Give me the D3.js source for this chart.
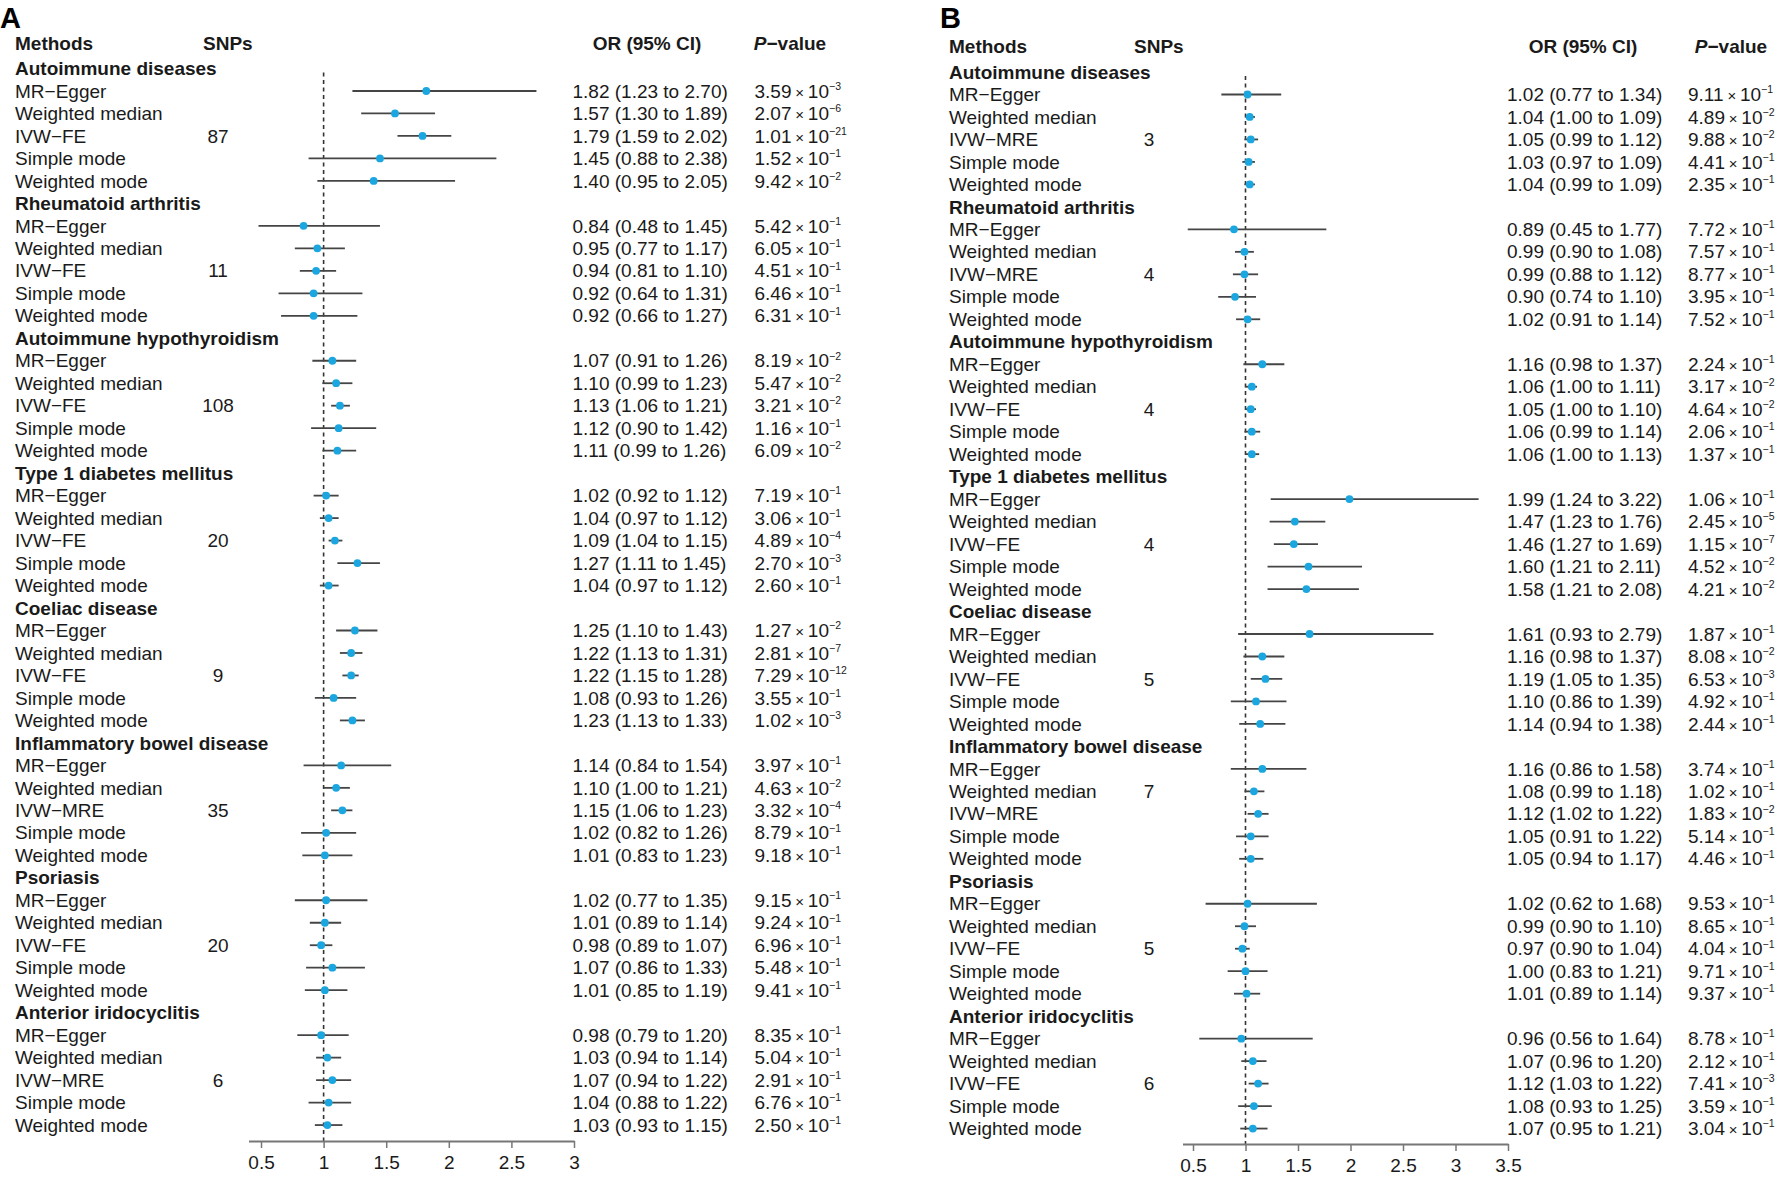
<!DOCTYPE html>
<html><head><meta charset="utf-8">
<script src="https://cdn.jsdelivr.net/npm/d3@7/dist/d3.min.js"></script>
<style>
body{margin:0;background:#fff}
svg{display:block}
text{font-family:"Liberation Sans",Arial,Helvetica,sans-serif;fill:#1a1a1a}
</style>
</head><body><svg id="chart" width="1782" height="1178"></svg>
<script>
// ---------- DATA ----------
const groups = ["Autoimmune diseases","Rheumatoid arthritis","Autoimmune hypothyroidism","Type 1 diabetes mellitus","Coeliac disease","Inflammatory bowel disease","Psoriasis","Anterior iridocyclitis"];
const methodNames = ["MR\u2212Egger","Weighted median","IVW","Simple mode","Weighted mode"];
const xTicksA = [0.5,1,1.5,2,2.5,3];
const xTicksB = [0.5,1,1.5,2,2.5,3,3.5];

// Panel A
const ivwA = ["IVW\u2212FE","IVW\u2212FE","IVW\u2212FE","IVW\u2212FE","IVW\u2212FE","IVW\u2212MRE","IVW\u2212FE","IVW\u2212MRE"];
const snpA = [87,11,108,20,9,35,20,6];
const snpRowA = [2,2,2,2,2,2,2,2];
const orA = [1.82,1.57,1.79,1.45,1.40, 0.84,0.95,0.94,0.92,0.92, 1.07,1.10,1.13,1.12,1.11, 1.02,1.04,1.09,1.27,1.04, 1.25,1.22,1.22,1.08,1.23, 1.14,1.10,1.15,1.02,1.01, 1.02,1.01,0.98,1.07,1.01, 0.98,1.03,1.07,1.04,1.03];
const loA = [1.23,1.30,1.59,0.88,0.95, 0.48,0.77,0.81,0.64,0.66, 0.91,0.99,1.06,0.90,0.99, 0.92,0.97,1.04,1.11,0.97, 1.10,1.13,1.15,0.93,1.13, 0.84,1.00,1.06,0.82,0.83, 0.77,0.89,0.89,0.86,0.85, 0.79,0.94,0.94,0.88,0.93];
const hiA = [2.70,1.89,2.02,2.38,2.05, 1.45,1.17,1.10,1.31,1.27, 1.26,1.23,1.21,1.42,1.26, 1.12,1.12,1.15,1.45,1.12, 1.43,1.31,1.28,1.26,1.33, 1.54,1.21,1.23,1.26,1.23, 1.35,1.14,1.07,1.33,1.19, 1.20,1.14,1.22,1.22,1.15];
const pManA = ["3.59","2.07","1.01","1.52","9.42", "5.42","6.05","4.51","6.46","6.31", "8.19","5.47","3.21","1.16","6.09", "7.19","3.06","4.89","2.70","2.60", "1.27","2.81","7.29","3.55","1.02", "3.97","4.63","3.32","8.79","9.18", "9.15","9.24","6.96","5.48","9.41", "8.35","5.04","2.91","6.76","2.50"];
const pExpA = [-3,-6,-21,-1,-2, -1,-1,-1,-1,-1, -2,-2,-2,-1,-2, -1,-1,-4,-3,-1, -2,-7,-12,-1,-3, -1,-2,-4,-1,-1, -1,-1,-1,-1,-1, -1,-1,-1,-1,-1];

// Panel B
const ivwB = ["IVW\u2212MRE","IVW\u2212MRE","IVW\u2212FE","IVW\u2212FE","IVW\u2212FE","IVW\u2212MRE","IVW\u2212FE","IVW\u2212FE"];
const snpB = [3,4,4,4,5,7,5,6];
const snpRowB = [2,2,2,2,2,1,2,2];
const orB = [1.02,1.04,1.05,1.03,1.04, 0.89,0.99,0.99,0.90,1.02, 1.16,1.06,1.05,1.06,1.06, 1.99,1.47,1.46,1.60,1.58, 1.61,1.16,1.19,1.10,1.14, 1.16,1.08,1.12,1.05,1.05, 1.02,0.99,0.97,1.00,1.01, 0.96,1.07,1.12,1.08,1.07];
const loB = [0.77,1.00,0.99,0.97,0.99, 0.45,0.90,0.88,0.74,0.91, 0.98,1.00,1.00,0.99,1.00, 1.24,1.23,1.27,1.21,1.21, 0.93,0.98,1.05,0.86,0.94, 0.86,0.99,1.02,0.91,0.94, 0.62,0.90,0.90,0.83,0.89, 0.56,0.96,1.03,0.93,0.95];
const hiB = [1.34,1.09,1.12,1.09,1.09, 1.77,1.08,1.12,1.10,1.14, 1.37,1.11,1.10,1.14,1.13, 3.22,1.76,1.69,2.11,2.08, 2.79,1.37,1.35,1.39,1.38, 1.58,1.18,1.22,1.22,1.17, 1.68,1.10,1.04,1.21,1.14, 1.64,1.20,1.22,1.25,1.21];
const pManB = ["9.11","4.89","9.88","4.41","2.35", "7.72","7.57","8.77","3.95","7.52", "2.24","3.17","4.64","2.06","1.37", "1.06","2.45","1.15","4.52","4.21", "1.87","8.08","6.53","4.92","2.44", "3.74","1.02","1.83","5.14","4.46", "9.53","8.65","4.04","9.71","9.37", "8.78","2.12","7.41","3.59","3.04"];
const pExpB = [-1,-2,-2,-1,-1, -1,-1,-1,-1,-1, -1,-2,-2,-1,-1, -1,-5,-7,-2,-2, -1,-2,-3,-1,-1, -1,-1,-2,-1,-1, -1,-1,-1,-1,-1, -1,-1,-3,-1,-1];

// ---------- DRAW ----------
const svg = d3.select("#chart");
svg.append("rect").attr("width",1782).attr("height",1178).attr("fill","#fff");

const FS = 19;
const STEP = 22.48;
const PT = "#1ba6df";
const MINUS = "\u2212";

function panel(cfg){
  const g = svg.append("g");
  const nRows = groups.length*6;
  const y = d3.scaleLinear().domain([0,nRows-1]).range([cfg.row0, cfg.row0+(nRows-1)*STEP]);
  const x = d3.scaleLinear().domain(cfg.xDomain).range(cfg.xRange);

  // panel letter
  g.append("text").attr("x",cfg.letterX).attr("y",28).attr("font-size",29).attr("font-weight","bold").style("fill","#000").text(cfg.letter);

  // headers
  const hy = cfg.row0 - 25.5;
  const head = g.append("g").attr("font-weight","bold").attr("font-size",FS);
  head.append("text").attr("x",cfg.methX).attr("y",hy).attr("dy","0.35em").text("Methods");
  head.append("text").attr("x",cfg.snpHeadX).attr("y",hy).attr("dy","0.35em").text("SNPs");
  head.append("text").attr("x",cfg.orHeadX).attr("y",hy).attr("dy","0.35em").attr("text-anchor","middle").text("OR (95% CI)");
  const ph = head.append("text").attr("x",cfg.pHeadX).attr("y",hy).attr("dy","0.35em").attr("text-anchor","middle");
  ph.append("tspan").attr("font-style","italic").text("P");
  ph.append("tspan").text(MINUS+"value");

  // reference line at OR = 1
  g.append("line").attr("x1",x(1)).attr("x2",x(1))
    .attr("y1",y(0)+4).attr("y2",cfg.axisY)
    .attr("stroke","#333").attr("stroke-width",1.6).attr("stroke-dasharray","4,3.5");

  // rows
  const rows = [];
  groups.forEach((name,gi)=>{
    rows.push({type:"head",label:name,idx:gi*6});
    for(let m=0;m<5;m++){
      const k = gi*5+m;
      rows.push({type:"est",idx:gi*6+1+m,
        label: m===2 ? cfg.ivw[gi] : methodNames[m],
        snp: m===cfg.snpRow[gi] ? String(cfg.snp[gi]) : "",
        or:cfg.or[k], lo:cfg.lo[k], hi:cfg.hi[k], pm:cfg.pMan[k], pe:cfg.pExp[k]});
    }
  });

  const rowG = g.selectAll("g.row").data(rows).join("g").attr("class","row")
    .attr("transform",d=>`translate(0,${y(d.idx)})`);

  rowG.append("text").attr("x",cfg.methX).attr("dy","0.35em").attr("font-size",FS)
    .attr("font-weight",d=>d.type==="head"?"bold":"normal").text(d=>d.label);

  const est = rowG.filter(d=>d.type==="est");
  est.append("text").attr("x",cfg.snpX).attr("dy","0.35em").attr("font-size",FS).attr("text-anchor","middle").text(d=>d.snp);

  est.append("line").attr("x1",d=>x(d.lo)).attr("x2",d=>x(d.hi)).attr("y1",0).attr("y2",0)
    .attr("stroke","#454545").attr("stroke-width",1.8);
  est.append("circle").attr("cx",d=>x(d.or)).attr("cy",0).attr("r",3.9).attr("fill",PT);

  est.append("text").attr("x",cfg.orX).attr("dy","0.35em").attr("font-size",FS)
    .text(d=>`${d.or.toFixed(2)} (${d.lo.toFixed(2)} to ${d.hi.toFixed(2)})`);

  const pt = est.append("text").attr("x",cfg.pX).attr("dy","0.35em").attr("font-size",FS);
  pt.append("tspan").text(d=>`${d.pm}\u2009`);
  pt.append("tspan").attr("font-size",15).text("\u00d7");
  pt.append("tspan").text("\u200910");
  pt.append("tspan").attr("font-size",10.5).attr("dy","-0.75em").text(d=>MINUS+Math.abs(d.pe));

  // x axis
  const ax = g.append("g").attr("transform",`translate(0,${cfg.axisY})`)
    .call(d3.axisBottom(x).tickValues(cfg.ticks).tickSize(7).tickSizeOuter(0).tickPadding(cfg.tickPad).tickFormat(d3.format("~g")));
  ax.select(".domain").attr("stroke","#777").attr("stroke-width",2);
  ax.selectAll(".tick line").attr("stroke","#777").attr("stroke-width",1.5);
  ax.selectAll(".tick text").attr("font-size",FS).attr("font-family",'"Liberation Sans",Arial,sans-serif').style("fill","#1a1a1a");
}

panel({letter:"A",letterX:0,row0:68.5,methX:15,snpHeadX:203,snpX:218,
  orHeadX:647,pHeadX:790,orX:572.5,pX:754.5,
  xDomain:[0.4,3],xRange:[248.5,574],ticks:xTicksA,axisY:1141,tickPad:8,
  ivw:ivwA,snp:snpA,snpRow:snpRowA,or:orA,lo:loA,hi:hiA,pMan:pManA,pExp:pExpA});

panel({letter:"B",letterX:940,row0:72,methX:949,snpHeadX:1134,snpX:1149,
  orHeadX:1583,pHeadX:1731,orX:1507,pX:1688,
  xDomain:[0.4,3.5],xRange:[1182.5,1508],ticks:xTicksB,axisY:1144,tickPad:8,
  ivw:ivwB,snp:snpB,snpRow:snpRowB,or:orB,lo:loB,hi:hiB,pMan:pManB,pExp:pExpB});
</script>
</body></html>
